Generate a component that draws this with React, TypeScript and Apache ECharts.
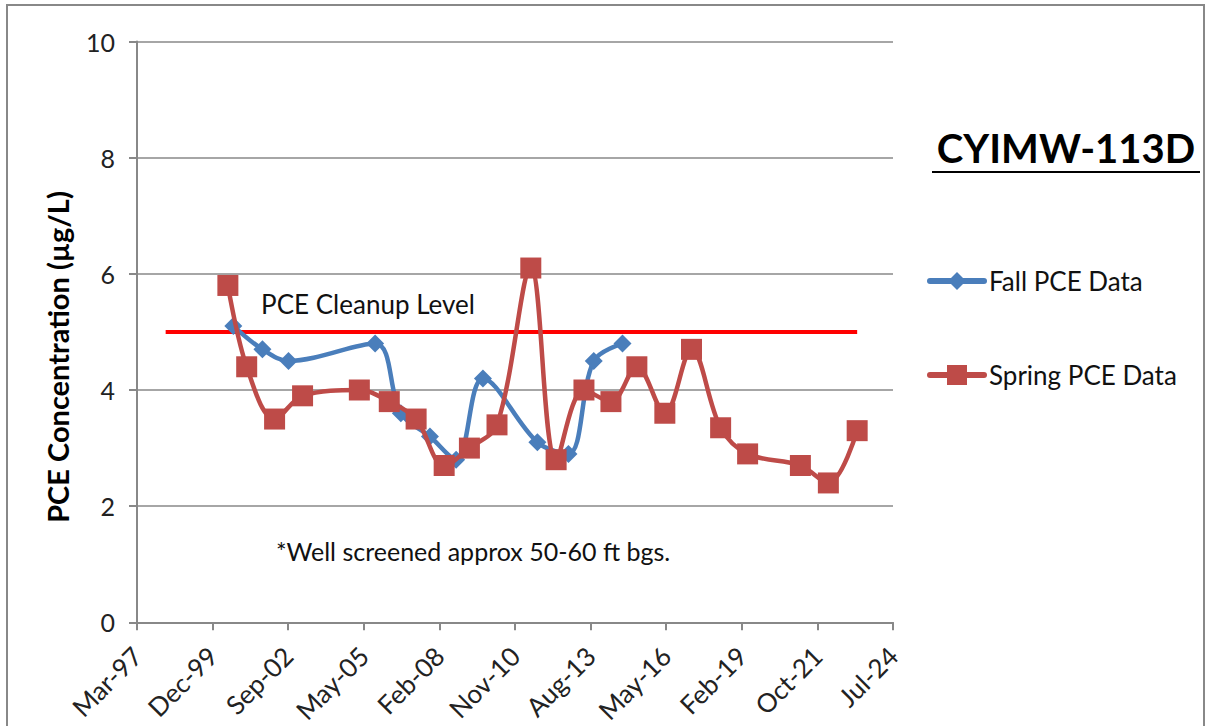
import React, { useEffect, useRef } from "react";
import * as echarts from "echarts";

// Axis origin (Excel serial 35500) = 1997-03-11; axis in days from there
const axisStart = "1997-03-11";
const axisMaxDays = 10000;
const axisStepDays = 1000;
const yTicks = [0, 2, 4, 6, 8, 10];

const fallDates = [
  "2000-09-05", "2001-09-25", "2002-09-05", "2005-10-25", "2006-09-30", "2007-10-20",
  "2008-09-30", "2009-09-20", "2011-09-10", "2012-10-25", "2013-09-25", "2014-10-10",
];
const fallValues = [5.1, 4.7, 4.5, 4.8, 3.6, 3.2, 2.8, 4.2, 3.1, 2.9, 4.5, 4.8];

const springDates = [
  "2000-06-25", "2001-03-01", "2002-03-05", "2003-03-10", "2005-03-30", "2006-04-30",
  "2007-04-20", "2008-04-25", "2009-03-25", "2010-03-25", "2011-06-15", "2012-05-15",
  "2013-05-18", "2014-05-10", "2015-04-18", "2016-04-22", "2017-04-10", "2018-04-30",
  "2019-04-22", "2021-03-20", "2022-03-25", "2023-04-10",
];
const springValues = [
  5.8, 4.4, 3.5, 3.9, 4.0, 3.8, 3.5, 2.7, 3.0, 3.4, 6.1, 2.8, 4.0, 3.8, 4.4, 3.6, 4.7, 3.35,
  2.9, 2.7, 2.4, 3.3,
];

const cleanupDates = ["1998-03-25", "2023-04-10"];
const cleanupValues = [5, 5];

const legendNames = ["Fall PCE Data", "Spring PCE Data"];
const legendColors = ["#4A7EBB", "#BE4B48"];

const MONTHS = ["Jan", "Feb", "Mar", "Apr", "May", "Jun", "Jul", "Aug", "Sep", "Oct", "Nov", "Dec"];
const startMs = Date.parse(axisStart + "T00:00:00Z");
const toDays = (d: string) => (Date.parse(d + "T00:00:00Z") - startMs) / 86400000;
const pairs = (dates: string[], vals: number[]) => dates.map((d, i) => [toDays(d), vals[i]]);

const FONT = "Lato, 'Open Sans', sans-serif";
const GRAY = "#888888";

export default function App() {
  const ref = useRef<HTMLDivElement>(null);
  useEffect(() => {
    if (!ref.current) return;
    const chart = echarts.init(ref.current, undefined, { renderer: "svg" });

    const legendY = [281, 375];
    const legendGraphics: any[] = [];
    legendNames.forEach((name, i) => {
      const y = legendY[i];
      legendGraphics.push({
        type: "line",
        shape: { x1: 930, y1: y, x2: 984, y2: y },
        style: { stroke: legendColors[i], lineWidth: 6, lineCap: "round" },
      });
      if (i === 0) {
        legendGraphics.push({
          type: "polygon",
          shape: { points: [[957, y - 9], [966, y], [957, y + 9], [948, y]] },
          style: { fill: legendColors[i] },
        });
      } else {
        legendGraphics.push({
          type: "rect",
          shape: { x: 947, y: y - 10, width: 20, height: 20 },
          style: { fill: legendColors[i] },
        });
      }
      legendGraphics.push({
        type: "text",
        x: 989,
        y: y,
        style: {
          text: name,
          font: "26px " + FONT,
          fill: "#111",
          align: "left",
          verticalAlign: "middle",
        },
      });
    });

    chart.setOption({
      animation: false,
      backgroundColor: "#ffffff",
      textStyle: { fontFamily: FONT },
      grid: { left: 137, right: 313, top: 41.5, bottom: 102, containLabel: false },
      xAxis: {
        type: "value",
        min: 0,
        max: axisMaxDays,
        interval: axisStepDays,
        splitLine: { show: false },
        axisLine: { show: true, lineStyle: { color: GRAY, width: 2 } },
        axisTick: { show: true, length: 8, lineStyle: { color: GRAY, width: 2 } },
        axisLabel: {
          rotate: 45,
          margin: 29,
          fontSize: 26,
          color: "#222",
          fontFamily: FONT,
          formatter: (v: number) => {
            const d = new Date(startMs + v * 86400000);
            return MONTHS[d.getUTCMonth()] + "-" + String(d.getUTCFullYear() % 100).padStart(2, "0");
          },
        },
      },
      yAxis: {
        type: "value",
        min: yTicks[0],
        max: yTicks[yTicks.length - 1],
        interval: yTicks[1] - yTicks[0],
        axisLine: { show: true, lineStyle: { color: GRAY, width: 2 } },
        axisTick: { show: true, length: 8, lineStyle: { color: GRAY, width: 2 } },
        splitLine: { show: true, lineStyle: { color: GRAY, width: 1.5 } },
        axisLabel: { fontSize: 25, color: "#222", margin: 22, fontFamily: FONT },
      },
      series: [
        {
          name: "PCE Cleanup Level",
          type: "line",
          data: pairs(cleanupDates, cleanupValues),
          symbol: "none",
          lineStyle: { color: "#FF0000", width: 4 },
          silent: true,
          z: 1,
        },
        {
          name: legendNames[0],
          type: "line",
          data: pairs(fallDates, fallValues),
          smooth: 0.35,
          symbol: "diamond",
          symbolSize: 18,
          lineStyle: { color: legendColors[0], width: 4.5 },
          itemStyle: { color: legendColors[0] },
          z: 3,
        },
        {
          name: legendNames[1],
          type: "line",
          data: pairs(springDates, springValues),
          smooth: 0.35,
          symbol: "rect",
          symbolSize: 21,
          lineStyle: { color: legendColors[1], width: 4.5 },
          itemStyle: { color: legendColors[1] },
          z: 4,
        },
      ],
      graphic: [
        {
          type: "rect",
          shape: { x: 7, y: 5, width: 1197, height: 740 },
          style: { fill: "none", stroke: GRAY, lineWidth: 2 },
          silent: true,
          z: -1,
        },
        {
          type: "text",
          x: 57,
          y: 357,
          rotation: Math.PI / 2,
          style: {
            text: "PCE Concentration (µg/L)",
            font: "bold 29px " + FONT,
            fill: "#000",
            align: "center",
            verticalAlign: "middle",
          },
        },
        {
          type: "text",
          x: 1066,
          y: 148,
          style: {
            text: "CYIMW-113D",
            font: "bold 40px " + FONT,
            fill: "#000",
            align: "center",
            verticalAlign: "middle",
          },
        },
        {
          type: "line",
          shape: { x1: 932, y1: 172, x2: 1200, y2: 172 },
          style: { stroke: "#000", lineWidth: 2 },
        },
        {
          type: "text",
          x: 368,
          y: 304,
          style: {
            text: "PCE Cleanup Level",
            font: "26px " + FONT,
            fill: "#111",
            align: "center",
            verticalAlign: "middle",
          },
        },
        {
          type: "text",
          x: 473,
          y: 551,
          style: {
            text: "*Well screened approx 50-60 ft bgs.",
            font: "25px " + FONT,
            fill: "#111",
            align: "center",
            verticalAlign: "middle",
          },
        },
        ...legendGraphics,
      ],
    });
    return () => chart.dispose();
  }, []);
  return (
    <div
      ref={ref}
      style={{ position: "fixed", left: 0, top: 0, width: 1206, height: 726, background: "#fff" }}
    />
  );
}
